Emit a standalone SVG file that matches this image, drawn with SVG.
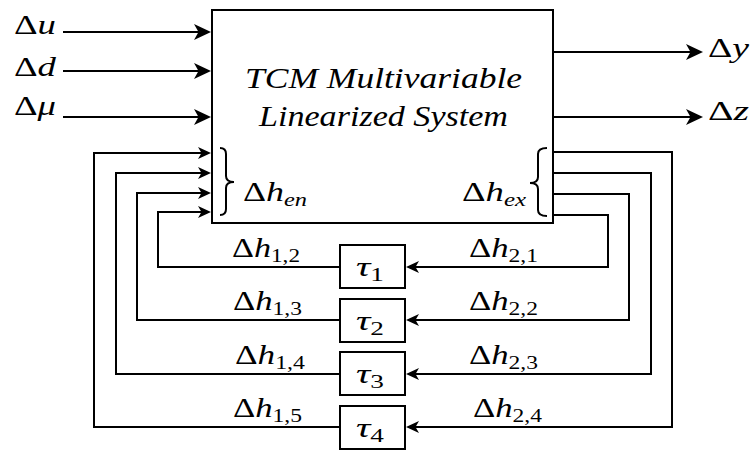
<svg xmlns="http://www.w3.org/2000/svg" width="751" height="450" viewBox="0 0 751 450" font-family="Liberation Serif, serif">
<style>
.ln{fill:none;stroke:#000;stroke-width:2}
.box{fill:#fff;stroke:#000;stroke-width:2}
text{font-family:"Liberation Serif",serif;fill:#000}
.m{font-size:28px}
.t{font-size:29px;font-style:italic}
.i{font-style:italic}
.s{font-size:19px}
</style>
<defs>
<marker id="big" markerUnits="userSpaceOnUse" markerWidth="24" markerHeight="20" viewBox="-20 -10 24 20" refX="-6" refY="0" orient="auto">
<path d="M0,0 L-17,-8 L-12.5,0 L-17,8 Z" fill="#000"/>
</marker>
<marker id="sm" markerUnits="userSpaceOnUse" markerWidth="20" markerHeight="16" viewBox="-16 -8 20 16" refX="-5" refY="0" orient="auto">
<path d="M0,0 L-13,-6 L-9.5,0 L-13,6 Z" fill="#000"/>
</marker>
</defs>

<g id="connectors">
<path class="ln" d="M63,32 H205" marker-end="url(#big)"/>
<path class="ln" d="M63,71 H205" marker-end="url(#big)"/>
<path class="ln" d="M63,117 H205" marker-end="url(#big)"/>
<path class="ln" d="M553,52 H697" marker-end="url(#big)"/>
<path class="ln" d="M553,117 H697" marker-end="url(#big)"/>
<path class="ln" d="M553,152 H672 V427 H411" marker-end="url(#sm)"/>
<path class="ln" d="M553,173 H651 V374 H411" marker-end="url(#sm)"/>
<path class="ln" d="M553,194 H629 V320 H411" marker-end="url(#sm)"/>
<path class="ln" d="M553,215 H608 V267 H411" marker-end="url(#sm)"/>
<path class="ln" d="M340,427 H94 V153 H206" marker-end="url(#sm)"/>
<path class="ln" d="M340,374 H116 V173 H206" marker-end="url(#sm)"/>
<path class="ln" d="M340,320 H137 V193 H206" marker-end="url(#sm)"/>
<path class="ln" d="M340,267 H158 V212 H206" marker-end="url(#sm)"/>
<text class="m" x="232" y="257" textLength="68" lengthAdjust="spacingAndGlyphs">Δ<tspan class="i">h</tspan><tspan class="s" dy="5">1,2</tspan></text>
<text class="m" x="233" y="310" textLength="69" lengthAdjust="spacingAndGlyphs">Δ<tspan class="i">h</tspan><tspan class="s" dy="5">1,3</tspan></text>
<text class="m" x="235" y="364" textLength="70" lengthAdjust="spacingAndGlyphs">Δ<tspan class="i">h</tspan><tspan class="s" dy="5">1,4</tspan></text>
<text class="m" x="233" y="417" textLength="69" lengthAdjust="spacingAndGlyphs">Δ<tspan class="i">h</tspan><tspan class="s" dy="5">1,5</tspan></text>
<text class="m" x="469" y="257" textLength="69" lengthAdjust="spacingAndGlyphs">Δ<tspan class="i">h</tspan><tspan class="s" dy="5">2,1</tspan></text>
<text class="m" x="469" y="310" textLength="69" lengthAdjust="spacingAndGlyphs">Δ<tspan class="i">h</tspan><tspan class="s" dy="5">2,2</tspan></text>
<text class="m" x="469" y="364" textLength="69" lengthAdjust="spacingAndGlyphs">Δ<tspan class="i">h</tspan><tspan class="s" dy="5">2,3</tspan></text>
<text class="m" x="473" y="417" textLength="69" lengthAdjust="spacingAndGlyphs">Δ<tspan class="i">h</tspan><tspan class="s" dy="5">2,4</tspan></text>
</g>

<g id="in-u"><text class="m" x="14" y="34" textLength="42" lengthAdjust="spacingAndGlyphs">Δ<tspan class="i">u</tspan></text></g>
<g id="in-d"><text class="m" x="14" y="76" textLength="42" lengthAdjust="spacingAndGlyphs">Δ<tspan class="i">d</tspan></text></g>
<g id="in-mu"><text class="m" x="14" y="115" textLength="42" lengthAdjust="spacingAndGlyphs">Δ<tspan class="i">μ</tspan></text></g>
<g id="out-y"><text class="m" x="708" y="57" textLength="41" lengthAdjust="spacingAndGlyphs">Δ<tspan class="i">y</tspan></text></g>
<g id="out-z"><text class="m" x="708" y="120" textLength="41" lengthAdjust="spacingAndGlyphs">Δ<tspan class="i">z</tspan></text></g>

<g id="system">
<rect class="box" x="212" y="10" width="341" height="213"/>
<text class="t" x="245" y="88" textLength="277" lengthAdjust="spacingAndGlyphs">TCM Multivariable</text>
<text class="t" x="259" y="126" textLength="249" lengthAdjust="spacingAndGlyphs">Linearized System</text>
<path class="ln" d="M220,148 Q226,148 226,154 L226,176 Q226,182 234,182 Q226,182 226,188 L226,209 Q226,215 220,215"/>
<path class="ln" d="M547,148 Q538,148 538,154 L538,177 Q538,183 530,183 Q538,183 538,189 L538,210 Q538,216 547,216"/>
<text class="m" x="243" y="201" textLength="64" lengthAdjust="spacingAndGlyphs">Δ<tspan class="i">h</tspan><tspan class="s i" dy="5">en</tspan></text>
<text class="m" x="462" y="201" textLength="64" lengthAdjust="spacingAndGlyphs">Δ<tspan class="i">h</tspan><tspan class="s i" dy="5">ex</tspan></text>
</g>

<g id="tau1"><rect class="box" x="340" y="245" width="65" height="43"/><text class="m" x="356" y="276" textLength="28" lengthAdjust="spacingAndGlyphs"><tspan class="i">τ</tspan><tspan class="s" dy="5">1</tspan></text></g>
<g id="tau2"><rect class="box" x="340" y="299" width="65" height="43"/><text class="m" x="356" y="330" textLength="28" lengthAdjust="spacingAndGlyphs"><tspan class="i">τ</tspan><tspan class="s" dy="5">2</tspan></text></g>
<g id="tau3"><rect class="box" x="340" y="352" width="65" height="43"/><text class="m" x="356" y="383" textLength="28" lengthAdjust="spacingAndGlyphs"><tspan class="i">τ</tspan><tspan class="s" dy="5">3</tspan></text></g>
<g id="tau4"><rect class="box" x="340" y="406" width="65" height="43"/><text class="m" x="356" y="437" textLength="28" lengthAdjust="spacingAndGlyphs"><tspan class="i">τ</tspan><tspan class="s" dy="5">4</tspan></text></g>
</svg>
